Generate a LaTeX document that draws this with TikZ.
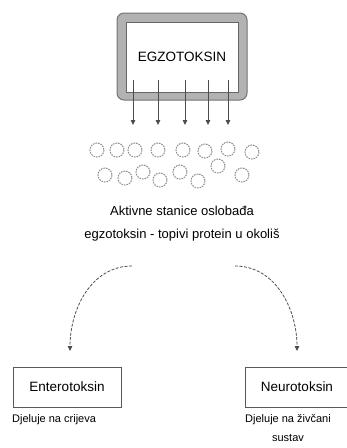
\documentclass[tikz,border=0pt]{standalone}
\usepackage{fontspec}
\setmainfont{Liberation Sans}
\usetikzlibrary{arrows.meta,positioning}

\tikzset{
  frame/.style={draw=black!55,fill=black!30,line width=1pt,rounded corners=7pt},
  inbox/.style={draw=black!60,fill=white,line width=0.8pt,rectangle,
    minimum width=112pt,minimum height=70pt},
  tbox/.style={draw=black!65,line width=0.9pt,rectangle,minimum height=40pt,
    font=\fontsize{13.5}{16}\selectfont},
  note/.style={font=\fontsize{11}{19}\selectfont,align=center,inner sep=0pt},
  arr/.style={draw=black!70,line width=0.8pt,-{Triangle[length=5pt,width=4.5pt]}},
  curv/.style={arr,dashed,dash pattern=on 3pt off 1.5pt},
  cell/.style={draw=black!45,line width=1pt,dash pattern=on 1.6pt off 1pt},
}

\begin{document}
\begin{tikzpicture}[x=1pt,y=-1pt]
\useasboundingbox (0,0) rectangle (347,448);

% toxin source
\draw[frame] (117,13) rectangle (247,100);
\node[inbox] (egzo) at (182,57) {};
\node[font=\fontsize{13.5}{16}\selectfont] (egzolbl) at (egzo) {EGZOTOKSIN};

\foreach \x in {133,158,185,208,228}
  \draw[arr] (\x,80) -- (\x,125);

% cells
\foreach \x/\y in {97/150,117/150,135/150,158/150,183/150,205/151,228/149,252/152}
  \draw[cell] (\x,\y) circle (7);
\foreach \x/\y in {105/175,125/178,143/172,160/180,180/172,198/181,218/166,242/175}
  \draw[cell] (\x,\y) circle (7);

\node[font=\fontsize{13}{23}\selectfont,align=center] (release) at (182,224)
  {Aktivne stanice oslobađa\\egzotoksin - topivi protein u okoliš};

% two toxin types
\node[tbox,minimum width=108pt] (entero) at (67,387) {Enterotoksin};
\node[tbox,minimum width=104pt] (neuro) at (297,387) {Neurotoksin};

\coordinate (lstart) at (132,266);
\coordinate (rstart) at (235,266);
\coordinate (lend) at (70,351);
\coordinate (rend) at (297,351);
\draw[curv] (lstart) to[out=180,in=90] (lend);
\draw[curv] (rstart) to[out=0,in=90] (rend);

\node[note,anchor=north west] (enteronote) at (12,414) {Djeluje na crijeva};
\node[note,anchor=north] (neuronote) at (288,414) {Djeluje na živčani\\sustav};

\end{tikzpicture}
\end{document}
